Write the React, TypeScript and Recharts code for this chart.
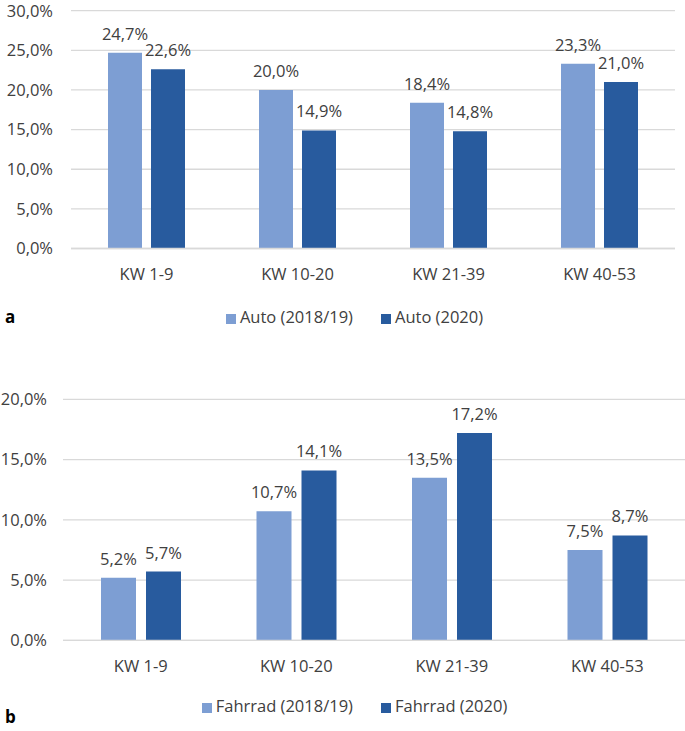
import { Bar, BarChart, CartesianGrid, LabelList, Legend, XAxis, YAxis } from "recharts";

const categories = ["KW 1-9", "KW 10-20", "KW 21-39", "KW 40-53"];
const auto2018 = [24.7, 20.0, 18.4, 23.3];
const auto2020 = [22.6, 14.9, 14.8, 21.0];
const fahrrad2018 = [5.2, 10.7, 13.5, 7.5];
const fahrrad2020 = [5.7, 14.1, 17.2, 8.7];
const autoTicks = [0, 5, 10, 15, 20, 25, 30];
const fahrradTicks = [0, 5, 10, 15, 20];

const LIGHT = "#7d9ed3";
const DARK = "#285b9e";
const TEXT = "#404040";
const GRID = "#d9d9d9";
const FONT = "'Open Sans', sans-serif";
const FS = 16.5;

const pct = (v: number) => v.toFixed(1).replace(".", ",") + "%";

const autoData = categories.map((kw, i) => ({ kw, a: auto2018[i], b: auto2020[i] }));
const fahrradData = categories.map((kw, i) => ({ kw, a: fahrrad2018[i], b: fahrrad2020[i] }));

const legendText = (v: string) => <span style={{ color: TEXT, fontSize: FS, marginRight: 18 }}>{v}</span>;

interface PanelProps {
  data: { kw: string; a: number; b: number }[];
  ticks: number[];
  names: [string, string];
  width: number;
  height: number;
  margin: { top: number; right: number; bottom: number; left: number };
  yWidth: number;
  yMargin: number;
  barSize: number;
  barGap: number;
  legendTop: number;
}

const Panel = ({ data, ticks, names, width, height, margin, yWidth, yMargin, barSize, barGap, legendTop }: PanelProps) => (
  <BarChart width={width} height={height} data={data} margin={margin} barSize={barSize} barGap={barGap}>
    <CartesianGrid vertical={false} stroke={GRID} strokeWidth={1.3} />
    <XAxis
      dataKey="kw"
      tickLine={false}
      axisLine={{ stroke: GRID, strokeWidth: 1.3 }}
      tickSize={0}
      tickMargin={20}
      tick={{ fill: TEXT, fontSize: FS }}
      height={30}
    />
    <YAxis
      domain={[ticks[0], ticks[ticks.length - 1]]}
      ticks={ticks}
      tickFormatter={pct}
      axisLine={false}
      tickLine={false}
      tickSize={0}
      tickMargin={yMargin}
      width={yWidth}
      tick={{ fill: TEXT, fontSize: FS }}
    />
    <Legend
      iconType="square"
      iconSize={10}
      formatter={legendText}
      wrapperStyle={{ top: legendTop, left: 0, width: width, paddingLeft: 26 }}
    />
    <Bar dataKey="a" name={names[0]} fill={LIGHT} isAnimationActive={false}>
      <LabelList dataKey="a" position="top" offset={13} formatter={pct} fill={TEXT} fontSize={FS} />
    </Bar>
    <Bar dataKey="b" name={names[1]} fill={DARK} isAnimationActive={false}>
      <LabelList dataKey="b" position="top" offset={13} formatter={pct} fill={TEXT} fontSize={FS} />
    </Bar>
  </BarChart>
);

export default function App() {
  return (
    <div style={{ position: "absolute", left: 0, top: 0, width: 685, height: 731, background: "#fff", fontFamily: FONT }}>
      <div style={{ position: "absolute", left: 0, top: 0 }}>
        <Panel
          data={autoData}
          ticks={autoTicks}
          names={["Auto (2018/19)", "Auto (2020)"]}
          width={685}
          height={335}
          margin={{ top: 10.7, right: 10, bottom: 33.5, left: 0 }}
          yWidth={71}
          yMargin={18}
          barSize={34}
          barGap={9}
          legendTop={305}
        />
      </div>
      <div style={{ position: "absolute", left: 0, top: 340 }}>
        <Panel
          data={fahrradData}
          ticks={fahrradTicks}
          names={["Fahrrad (2018/19)", "Fahrrad (2020)"]}
          width={685}
          height={391}
          margin={{ top: 59.3, right: 0, bottom: 37.7, left: 0 }}
          yWidth={63}
          yMargin={16}
          barSize={35}
          barGap={10}
          legendTop={354}
        />
      </div>
      <div style={{ position: "absolute", left: 5, top: 305, fontWeight: 700, fontSize: 17, color: "#000" }}>a</div>
      <div style={{ position: "absolute", left: 5, top: 705, fontWeight: 700, fontSize: 17, color: "#000" }}>b</div>
    </div>
  );
}
